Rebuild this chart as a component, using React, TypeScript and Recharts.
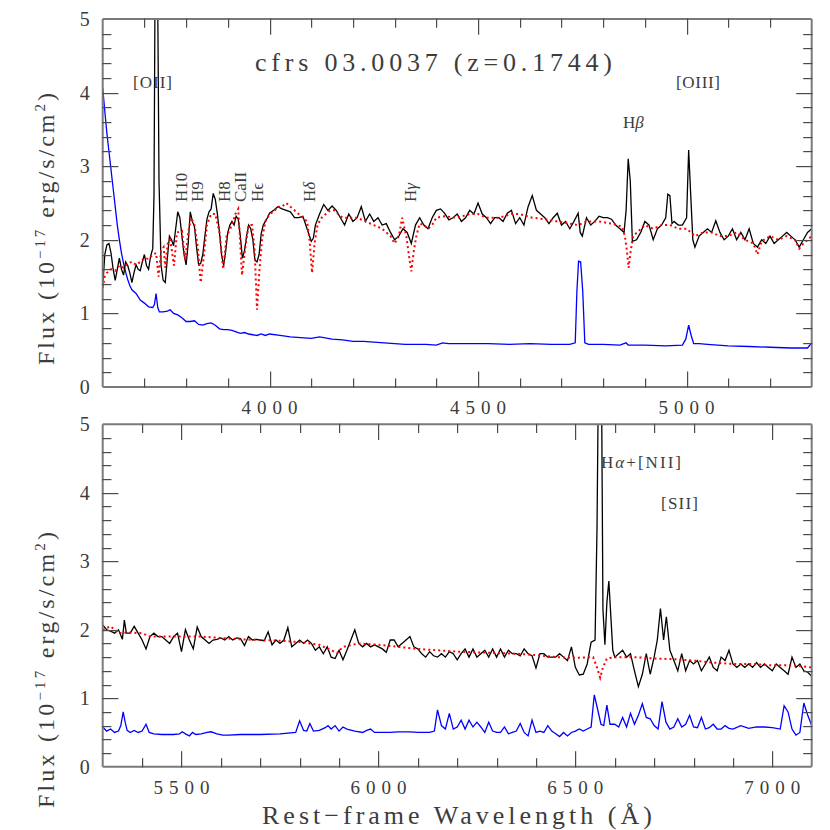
import React from "react";
import { LineChart, Line, XAxis, YAxis } from "recharts";

type Pt = [number, number];

// top panel: 3600-5300 A
const topObserved: Pt[] = [
  [3600, 1.35], [3605, 1.8], [3610, 1.93], [3615, 1.95], [3620, 1.82], [3625, 1.6], [3630, 1.45], [3635, 1.6],
  [3640, 1.75], [3645, 1.6], [3650, 1.52], [3655, 1.7], [3660, 1.65], [3665, 1.55], [3670, 1.42], [3675, 1.55],
  [3680, 1.66], [3685, 1.6], [3690, 1.58], [3695, 1.7], [3700, 1.8], [3705, 1.65], [3710, 1.6], [3715, 1.78],
  [3720, 1.88], [3723, 2.6], [3726, 6], [3731, 6], [3735, 2.8], [3740, 1.65], [3745, 1.45], [3750, 1.42],
  [3755, 1.75], [3760, 2.05], [3765, 2.0], [3770, 1.92], [3775, 2.15], [3780, 2.38], [3785, 2.3], [3790, 2.05],
  [3795, 1.8], [3800, 1.66], [3805, 1.95], [3810, 2.38], [3815, 2.25], [3820, 2.18], [3825, 1.9], [3830, 1.66],
  [3835, 1.68], [3840, 1.8], [3845, 2.05], [3850, 2.28], [3855, 2.38], [3860, 2.42], [3865, 2.63], [3870, 2.55],
  [3875, 2.35], [3880, 2.1], [3885, 1.8], [3890, 1.65], [3895, 1.85], [3900, 2.1], [3905, 2.2], [3910, 2.25],
  [3915, 2.2], [3920, 2.32], [3925, 2.28], [3930, 2.05], [3935, 1.75], [3940, 1.85], [3945, 2.05], [3950, 2.2],
  [3955, 2.15], [3960, 2.0], [3965, 1.72], [3970, 1.7], [3975, 1.8], [3980, 2.08], [3985, 2.2], [3990, 2.25],
  [3995, 2.3], [4000, 2.36], [4010, 2.4], [4020, 2.45], [4030, 2.42], [4040, 2.4], [4050, 2.38], [4060, 2.3],
  [4070, 2.3], [4080, 2.32], [4090, 2.15], [4100, 1.98], [4105, 2.02], [4110, 2.2], [4120, 2.35], [4130, 2.48],
  [4140, 2.4], [4150, 2.46], [4160, 2.4], [4170, 2.3], [4180, 2.2], [4190, 2.35], [4200, 2.25], [4210, 2.3],
  [4220, 2.45], [4230, 2.25], [4240, 2.35], [4250, 2.25], [4260, 2.3], [4270, 2.2], [4280, 2.22], [4290, 2.1],
  [4300, 2.0], [4310, 2.05], [4320, 2.15], [4330, 2.1], [4340, 1.95], [4350, 2.2], [4360, 2.3], [4370, 2.2],
  [4380, 2.15], [4390, 2.3], [4400, 2.4], [4410, 2.42], [4420, 2.36], [4430, 2.27], [4440, 2.3], [4450, 2.35],
  [4460, 2.25], [4470, 2.3], [4480, 2.4], [4490, 2.35], [4500, 2.5], [4510, 2.35], [4520, 2.3], [4530, 2.22],
  [4540, 2.3], [4550, 2.3], [4560, 2.25], [4570, 2.36], [4580, 2.4], [4590, 2.22], [4600, 2.3], [4610, 2.2],
  [4620, 2.45], [4630, 2.6], [4640, 2.4], [4650, 2.35], [4660, 2.3], [4670, 2.22], [4680, 2.3], [4690, 2.36],
  [4700, 2.2], [4710, 2.25], [4720, 2.15], [4730, 2.25], [4740, 2.36], [4745, 2.1], [4750, 2.05], [4760, 2.3],
  [4770, 2.2], [4780, 2.25], [4790, 2.32], [4800, 2.3], [4810, 2.3], [4820, 2.28], [4830, 2.2], [4840, 2.15],
  [4850, 2.1], [4855, 2.4], [4860, 3.1], [4865, 2.8], [4870, 1.98], [4880, 2.0], [4890, 2.1], [4900, 2.25],
  [4910, 2.2], [4920, 2.0], [4930, 2.15], [4940, 2.2], [4950, 2.3], [4955, 2.62], [4960, 2.6], [4965, 2.22],
  [4970, 2.25], [4980, 2.2], [4990, 2.2], [5000, 2.3], [5005, 3.22], [5010, 2.6], [5015, 2.0], [5020, 1.9],
  [5030, 2.05], [5040, 2.1], [5050, 2.15], [5060, 2.1], [5070, 2.26], [5080, 2.1], [5090, 2.0], [5100, 2.05],
  [5110, 2.15], [5120, 2.0], [5130, 2.1], [5140, 2.0], [5150, 2.15], [5160, 1.95], [5170, 1.9], [5180, 2.0],
  [5190, 1.95], [5200, 2.05], [5210, 1.95], [5220, 2.0], [5230, 2.05], [5240, 2.1], [5250, 2.05], [5260, 2.0],
  [5270, 1.9], [5280, 2.0], [5290, 2.1], [5300, 2.15],
];

const topModel: Pt[] = [
  [3600, 1.35], [3605, 1.5], [3610, 1.55], [3620, 1.6], [3630, 1.58], [3640, 1.65], [3650, 1.62], [3660, 1.68],
  [3670, 1.7], [3680, 1.66], [3690, 1.7], [3700, 1.75], [3710, 1.74], [3720, 1.8], [3728, 1.82], [3734, 1.5],
  [3740, 1.85], [3746, 1.9], [3750, 1.62], [3756, 1.95], [3762, 2.0], [3771, 1.65], [3778, 2.1], [3790, 2.12],
  [3798, 1.72], [3805, 2.1], [3812, 2.3], [3820, 2.2], [3828, 1.9], [3835, 1.42], [3842, 1.75], [3850, 2.2],
  [3860, 2.35], [3870, 2.35], [3880, 2.1], [3889, 1.6], [3897, 2.05], [3910, 2.2], [3918, 2.35], [3925, 2.42],
  [3934, 1.52], [3942, 1.9], [3950, 2.2], [3958, 2.2], [3964, 1.9], [3970, 1.05], [3976, 1.6], [3982, 2.0],
  [3990, 2.25], [4000, 2.35], [4010, 2.38], [4020, 2.45], [4030, 2.45], [4040, 2.5], [4050, 2.45], [4060, 2.4],
  [4070, 2.35], [4080, 2.3], [4090, 2.25], [4096, 2.0], [4102, 1.55], [4108, 1.95], [4115, 2.2], [4125, 2.3],
  [4135, 2.35], [4145, 2.4], [4155, 2.4], [4165, 2.35], [4175, 2.3], [4190, 2.3], [4210, 2.3], [4230, 2.25],
  [4250, 2.2], [4270, 2.15], [4290, 2.05], [4300, 1.95], [4310, 2.05], [4318, 2.3], [4328, 2.05], [4334, 1.8],
  [4340, 1.57], [4346, 1.85], [4352, 2.05], [4360, 2.22], [4370, 2.2], [4380, 2.15], [4390, 2.2], [4400, 2.3],
  [4420, 2.32], [4450, 2.3], [4480, 2.35], [4500, 2.35], [4520, 2.3], [4550, 2.3], [4580, 2.35], [4600, 2.35],
  [4630, 2.3], [4660, 2.28], [4690, 2.25], [4720, 2.22], [4740, 2.2], [4760, 2.25], [4790, 2.25], [4820, 2.22],
  [4845, 2.18], [4852, 2.05], [4857, 1.85], [4861, 1.62], [4866, 1.85], [4872, 2.05], [4885, 2.12], [4900, 2.2],
  [4920, 2.15], [4940, 2.2], [4960, 2.2], [4980, 2.15], [5000, 2.15], [5020, 2.05], [5040, 2.1], [5060, 2.1],
  [5080, 2.05], [5100, 2.05], [5120, 2.1], [5140, 2.0], [5160, 1.95], [5170, 1.8], [5180, 1.98], [5200, 2.05],
  [5220, 2.0], [5240, 2.05], [5260, 2.0], [5270, 1.88], [5280, 1.95], [5300, 2.05],
];

const topNoise: Pt[] = [
  [3600, 4.06], [3605, 3.75], [3610, 3.45], [3615, 3.2], [3620, 2.95], [3625, 2.7], [3630, 2.45], [3635, 2.2],
  [3640, 2.0], [3645, 1.82], [3650, 1.68], [3655, 1.56], [3660, 1.46], [3665, 1.38], [3670, 1.32], [3680, 1.27],
  [3690, 1.18], [3700, 1.14], [3710, 1.09], [3720, 1.08], [3724, 1.12], [3728, 1.27], [3732, 1.08], [3736, 1.02],
  [3745, 1.02], [3755, 1.03], [3762, 1.05], [3770, 1.0], [3780, 0.98], [3790, 0.94], [3800, 0.89], [3810, 0.89],
  [3820, 0.9], [3830, 0.85], [3840, 0.84], [3850, 0.86], [3860, 0.87], [3870, 0.84], [3880, 0.79], [3890, 0.78],
  [3900, 0.78], [3910, 0.77], [3920, 0.75], [3930, 0.73], [3940, 0.74], [3950, 0.72], [3960, 0.71], [3970, 0.7],
  [3980, 0.72], [3990, 0.7], [4000, 0.72], [4025, 0.7], [4050, 0.68], [4075, 0.67], [4100, 0.66], [4120, 0.68],
  [4150, 0.65], [4175, 0.64], [4200, 0.62], [4225, 0.62], [4250, 0.61], [4275, 0.6], [4300, 0.59], [4325, 0.58],
  [4350, 0.58], [4375, 0.58], [4400, 0.57], [4415, 0.6], [4430, 0.59], [4475, 0.59], [4525, 0.59], [4575, 0.58],
  [4625, 0.59], [4675, 0.58], [4720, 0.58], [4733, 0.6], [4737, 1.3], [4741, 1.71], [4746, 1.7], [4751, 1.3],
  [4756, 0.6], [4765, 0.58], [4800, 0.58], [4840, 0.57], [4855, 0.6], [4860, 0.57], [4900, 0.57], [4950, 0.56],
  [4990, 0.57], [4998, 0.65], [5005, 0.84], [5011, 0.7], [5017, 0.59], [5030, 0.59], [5050, 0.58], [5100, 0.56],
  [5150, 0.55], [5200, 0.54], [5250, 0.53], [5290, 0.53], [5300, 0.6],
];

// bottom panel: 5300-7100 A
const bottomObserved: Pt[] = [
  [5300, 2.07], [5310, 2.0], [5320, 1.98], [5330, 1.95], [5340, 2.0], [5350, 1.86], [5355, 2.14], [5360, 1.95],
  [5370, 1.95], [5380, 2.05], [5390, 1.95], [5400, 1.85], [5410, 1.72], [5420, 1.9], [5430, 1.95], [5440, 1.9],
  [5450, 1.9], [5460, 1.85], [5470, 1.8], [5480, 1.9], [5490, 1.95], [5500, 1.68], [5510, 2.0], [5520, 1.85],
  [5530, 1.72], [5540, 2.04], [5550, 1.9], [5560, 1.85], [5570, 1.8], [5580, 1.85], [5590, 1.86], [5600, 1.88],
  [5610, 1.85], [5620, 1.9], [5630, 1.85], [5640, 1.88], [5650, 1.87], [5660, 1.77], [5670, 1.9], [5680, 1.85],
  [5690, 1.86], [5700, 1.85], [5710, 1.84], [5720, 1.97], [5730, 1.78], [5740, 1.85], [5750, 1.8], [5760, 1.85],
  [5770, 2.03], [5780, 1.75], [5790, 1.8], [5800, 1.85], [5810, 1.8], [5820, 1.85], [5830, 1.8], [5840, 1.7],
  [5850, 1.75], [5860, 1.65], [5870, 1.75], [5880, 1.6], [5890, 1.58], [5900, 1.7], [5910, 1.56], [5920, 1.7],
  [5930, 1.85], [5940, 2.0], [5950, 1.8], [5960, 1.75], [5970, 1.8], [5980, 1.75], [5990, 1.78], [6000, 1.75],
  [6010, 1.72], [6020, 1.67], [6030, 1.85], [6040, 1.85], [6050, 1.75], [6060, 1.8], [6070, 1.85], [6080, 1.9],
  [6090, 1.75], [6100, 1.72], [6110, 1.65], [6120, 1.6], [6130, 1.68], [6140, 1.62], [6150, 1.6], [6160, 1.65],
  [6170, 1.6], [6180, 1.68], [6190, 1.65], [6200, 1.56], [6210, 1.65], [6220, 1.72], [6230, 1.6], [6240, 1.72],
  [6250, 1.6], [6260, 1.65], [6270, 1.7], [6280, 1.6], [6290, 1.72], [6300, 1.6], [6310, 1.72], [6320, 1.6],
  [6330, 1.7], [6340, 1.65], [6350, 1.65], [6360, 1.62], [6370, 1.72], [6380, 1.65], [6390, 1.62], [6400, 1.44],
  [6410, 1.65], [6420, 1.65], [6430, 1.6], [6440, 1.6], [6450, 1.6], [6460, 1.65], [6470, 1.6], [6480, 1.55],
  [6490, 1.75], [6500, 1.45], [6510, 1.34], [6520, 1.35], [6530, 1.5], [6540, 1.82], [6550, 1.85], [6555, 3.5],
  [6559, 6], [6566, 6], [6570, 2.3], [6575, 1.78], [6580, 2.4], [6585, 2.71], [6590, 2.2], [6595, 1.7],
  [6600, 1.6], [6610, 1.65], [6620, 1.7], [6630, 1.6], [6640, 1.65], [6650, 1.4], [6660, 1.17], [6670, 1.35],
  [6680, 1.65], [6690, 1.35], [6700, 1.6], [6708, 1.85], [6716, 2.31], [6724, 1.85], [6731, 2.19], [6740, 1.7],
  [6750, 1.55], [6760, 1.4], [6770, 1.65], [6780, 1.4], [6790, 1.55], [6800, 1.5], [6810, 1.55], [6820, 1.4],
  [6830, 1.5], [6840, 1.6], [6850, 1.45], [6860, 1.4], [6870, 1.6], [6880, 1.55], [6890, 1.7], [6900, 1.5],
  [6910, 1.45], [6920, 1.5], [6930, 1.45], [6940, 1.5], [6950, 1.45], [6960, 1.52], [6970, 1.45], [6980, 1.5],
  [6990, 1.45], [7000, 1.4], [7010, 1.5], [7020, 1.45], [7030, 1.4], [7040, 1.35], [7050, 1.6], [7060, 1.45],
  [7070, 1.5], [7080, 1.4], [7090, 1.38], [7100, 1.32],
];

const bottomModel: Pt[] = [
  [5300, 2.0], [5320, 2.05], [5340, 1.95], [5360, 1.96], [5400, 1.95], [5420, 1.9], [5450, 1.9], [5500, 1.9],
  [5550, 1.9], [5600, 1.88], [5650, 1.86], [5700, 1.85], [5750, 1.84], [5800, 1.82], [5850, 1.78], [5880, 1.7],
  [5895, 1.66], [5910, 1.75], [5950, 1.8], [6000, 1.78], [6050, 1.75], [6100, 1.72], [6150, 1.7], [6200, 1.68],
  [6250, 1.67], [6300, 1.66], [6350, 1.65], [6400, 1.63], [6450, 1.6], [6500, 1.59], [6545, 1.6], [6555, 1.45],
  [6563, 1.3], [6570, 1.45], [6580, 1.58], [6600, 1.6], [6650, 1.6], [6700, 1.58], [6750, 1.57], [6800, 1.55],
  [6850, 1.52], [6900, 1.5], [6950, 1.5], [7000, 1.48], [7050, 1.48], [7100, 1.45],
];

const bottomNoise: Pt[] = [
  [5300, 0.58], [5310, 0.52], [5320, 0.55], [5330, 0.5], [5340, 0.52], [5346, 0.6], [5352, 0.8], [5357, 0.65],
  [5362, 0.53], [5370, 0.5], [5380, 0.53], [5390, 0.5], [5400, 0.52], [5410, 0.62], [5418, 0.5], [5430, 0.48],
  [5450, 0.47], [5480, 0.47], [5495, 0.48], [5502, 0.51], [5510, 0.48], [5520, 0.45], [5528, 0.5], [5536, 0.47],
  [5550, 0.48], [5565, 0.5], [5575, 0.51], [5590, 0.48], [5605, 0.46], [5620, 0.46], [5650, 0.47], [5700, 0.47],
  [5750, 0.48], [5790, 0.5], [5800, 0.67], [5810, 0.53], [5818, 0.52], [5826, 0.63], [5835, 0.52], [5850, 0.53],
  [5865, 0.57], [5872, 0.6], [5880, 0.55], [5890, 0.6], [5900, 0.52], [5910, 0.58], [5920, 0.55], [5940, 0.52],
  [5960, 0.5], [5970, 0.53], [5980, 0.55], [5990, 0.5], [6000, 0.5], [6030, 0.5], [6050, 0.51], [6080, 0.51],
  [6100, 0.5], [6130, 0.5], [6142, 0.52], [6150, 0.83], [6160, 0.6], [6170, 0.55], [6180, 0.78], [6190, 0.55],
  [6200, 0.58], [6210, 0.68], [6220, 0.55], [6230, 0.68], [6240, 0.58], [6250, 0.65], [6260, 0.58], [6270, 0.5],
  [6280, 0.65], [6290, 0.52], [6300, 0.5], [6310, 0.5], [6320, 0.58], [6330, 0.48], [6340, 0.5], [6350, 0.52],
  [6360, 0.63], [6370, 0.5], [6380, 0.45], [6390, 0.68], [6400, 0.5], [6410, 0.52], [6420, 0.5], [6430, 0.6],
  [6440, 0.52], [6450, 0.48], [6460, 0.44], [6470, 0.5], [6480, 0.45], [6490, 0.5], [6500, 0.52], [6510, 0.55],
  [6520, 0.52], [6530, 0.55], [6540, 0.58], [6548, 1.05], [6556, 0.85], [6565, 0.62], [6572, 0.6], [6580, 0.9],
  [6588, 0.62], [6600, 0.62], [6610, 0.58], [6620, 0.72], [6630, 0.58], [6640, 0.78], [6650, 0.62], [6660, 0.75],
  [6670, 0.92], [6680, 0.72], [6690, 0.7], [6700, 0.6], [6710, 0.55], [6720, 0.95], [6730, 0.65], [6740, 0.55],
  [6750, 0.58], [6760, 0.7], [6770, 0.58], [6780, 0.62], [6790, 0.75], [6800, 0.58], [6810, 0.57], [6820, 0.72],
  [6830, 0.55], [6840, 0.57], [6850, 0.62], [6860, 0.55], [6870, 0.55], [6880, 0.6], [6890, 0.56], [6900, 0.55],
  [6920, 0.6], [6940, 0.56], [6960, 0.58], [6980, 0.58], [7000, 0.57], [7020, 0.55], [7030, 0.89], [7040, 0.8],
  [7050, 0.55], [7060, 0.46], [7070, 0.5], [7080, 0.93], [7090, 0.75], [7100, 0.6],
];

const topTicks = [3700, 3800, 3900, 4000, 4100, 4200, 4300, 4400, 4500, 4600, 4700, 4800, 4900, 5000, 5100, 5200];
const bottomTicks = [5400, 5500, 5600, 5700, 5800, 5900, 6000, 6100, 6200, 6300, 6400, 6500, 6600, 6700, 6800, 6900, 7000];
const fluxTicks = [0.2, 0.4, 0.6, 0.8, 1, 1.2, 1.4, 1.6, 1.8, 2, 2.2, 2.4, 2.6, 2.8, 3, 3.2, 3.4, 3.6, 3.8, 4, 4.2, 4.4, 4.6, 4.8];
const fluxLabels = [0, 1, 2, 3, 4, 5];

const FRAME = "#7a7a7a";
const TICK = "#4a4a4a";
const INK = "#3c3c3c";
const FONT = "'Liberation Serif', 'DejaVu Serif', serif";
const MINOR = 8;
const MAJOR = 15;

// plot boxes in page pixels (same numbers as the chart margins below)
const TOP_BOX = { left: 102.7, right: 811.7, top: 19, bottom: 387 };
const BOTTOM_BOX = { left: 102.7, right: 811.7, top: 424.3, bottom: 766.7 };

const rows = (pts: Pt[]) => pts.map(([wl, flux]) => ({ wl, flux }));
const majorX = (v: number) => v % 500 === 0;
const majorY = (v: number) => Math.abs(v - Math.round(v)) < 1e-6;
const crisp = (v: number) => Math.round(v) + 0.5;

const WaveLabel = (p: any) =>
  majorX(p.payload.value) ? (
    <text x={p.x} y={p.y + 27} textAnchor="middle" fontFamily={FONT} fontSize={19} fill={INK} textLength={56} lengthAdjust="spacing">
      {p.payload.value}
    </text>
  ) : (
    <g />
  );

const FluxLabel = (p: any) => (
  <text x={p.x - 13} y={p.y + 7} textAnchor="end" fontFamily={FONT} fontSize={20} fill={INK}>
    {p.payload.value}
  </text>
);

interface PanelProps {
  height: number;
  margin: { top: number; right: number; bottom: number; left: number };
  domain: [number, number];
  ticks: number[];
  observed: Pt[];
  model: Pt[];
  noise: Pt[];
}

const SpectrumPanel = ({ height, margin, domain, ticks, observed, model, noise }: PanelProps) => {
  const frame = { stroke: FRAME, strokeWidth: 2 };
  return (
    <LineChart width={830} height={height} margin={margin}>
      <XAxis xAxisId="b" type="number" dataKey="wl" domain={domain} allowDataOverflow ticks={ticks} interval={0} height={1}
        tickSize={0} tickMargin={0} tickLine={false} axisLine={frame} tick={(p: any) => <WaveLabel {...p} />} />
      <XAxis xAxisId="t" orientation="top" type="number" dataKey="wl" domain={domain} allowDataOverflow height={1}
        tick={false} tickLine={false} axisLine={frame} />
      <YAxis yAxisId="l" type="number" domain={[0, 5]} allowDataOverflow ticks={fluxLabels} interval={0} width={1}
        tickSize={0} tickMargin={0} tickLine={false} axisLine={frame} tick={(p: any) => <FluxLabel {...p} />} />
      <YAxis yAxisId="r" orientation="right" type="number" domain={[0, 5]} allowDataOverflow width={1}
        tick={false} tickLine={false} axisLine={frame} />
      <Line xAxisId="b" yAxisId="l" data={rows(noise)} dataKey="flux" type="linear" stroke="#0000ff" strokeWidth={1.3}
        dot={false} isAnimationActive={false} />
      <Line xAxisId="b" yAxisId="l" data={rows(observed)} dataKey="flux" type="linear" stroke="#000000" strokeWidth={1.3}
        dot={false} isAnimationActive={false} />
      <Line xAxisId="b" yAxisId="l" data={rows(model)} dataKey="flux" type="linear" stroke="#ff0000" strokeWidth={2}
        strokeDasharray="2 3" dot={false} isAnimationActive={false} />
    </LineChart>
  );
};

// inward tick marks on all four sides of a panel frame, snapped to whole pixels
const FrameTicks = ({ box, domain, ticks }: { box: typeof TOP_BOX; domain: [number, number]; ticks: number[] }) => {
  const sx = (v: number) => crisp(box.left + ((v - domain[0]) / (domain[1] - domain[0])) * (box.right - box.left));
  const sy = (v: number) => crisp(box.bottom - (v / 5) * (box.bottom - box.top));
  const marks: { x1: number; y1: number; x2: number; y2: number }[] = [];
  ticks.forEach((v) => {
    const len = majorX(v) ? MAJOR : MINOR;
    const x = sx(v);
    marks.push({ x1: x, y1: box.bottom, x2: x, y2: box.bottom - len });
    marks.push({ x1: x, y1: box.top, x2: x, y2: box.top + len });
  });
  fluxTicks.forEach((v) => {
    const len = majorY(v) ? MAJOR : MINOR;
    const y = sy(v);
    marks.push({ x1: box.left, y1: y, x2: box.left + len, y2: y });
    marks.push({ x1: box.right, y1: y, x2: box.right - len, y2: y });
  });
  return (
    <g>
      {marks.map((m, i) => (
        <rect key={i} x={Math.min(m.x1, m.x2) - 0.5} y={Math.min(m.y1, m.y2) - 0.5}
          width={Math.max(Math.abs(m.x2 - m.x1), 0) + 1.2} height={Math.max(Math.abs(m.y2 - m.y1), 0) + 1.2} fill={TICK} />
      ))}
    </g>
  );
};

const Label = ({ x, y, text, size = 17, rotate = false, length }: { x: number; y: number; text: React.ReactNode; size?: number; rotate?: boolean; length?: number }) => (
  <text x={0} y={0} transform={`translate(${x},${y})${rotate ? " rotate(-90)" : ""}`} fontFamily={FONT} fontSize={size} fill={INK}
    textLength={length} lengthAdjust={length ? "spacing" : undefined}>
    {text}
  </text>
);

const FluxTitle = ({ x, y, length }: { x: number; y: number; length: number }) => (
  <text transform={`translate(${x},${y}) rotate(-90)`} fontFamily={FONT} fontSize={24} fill={INK} textLength={length} lengthAdjust="spacing">
    Flux (10<tspan dy={-9} fontSize={15}>−17</tspan>
    <tspan dy={9}> erg/s/cm</tspan>
    <tspan dy={-9} fontSize={15}>2</tspan>
    <tspan dy={9}>)</tspan>
  </text>
);

export default function App() {
  return (
    <div style={{ position: "absolute", left: 0, top: 0, width: 830, height: 830, background: "#fff" }}>
      <div style={{ position: "absolute", left: 0, top: 0 }}>
        <SpectrumPanel height={420} margin={{ top: 18, right: 17.3, bottom: 32, left: 101.7 }} domain={[3600, 5300]}
          ticks={topTicks} observed={topObserved} model={topModel} noise={topNoise} />
      </div>
      <div style={{ position: "absolute", left: 0, top: 405 }}>
        <SpectrumPanel height={425} margin={{ top: 18.3, right: 17.3, bottom: 62.3, left: 101.7 }} domain={[5300, 7100]}
          ticks={bottomTicks} observed={bottomObserved} model={bottomModel} noise={bottomNoise} />
      </div>
      <svg width={830} height={830} style={{ position: "absolute", left: 0, top: 0, pointerEvents: "none" }}>
        <FrameTicks box={TOP_BOX} domain={[3600, 5300]} ticks={topTicks} />
        <FrameTicks box={BOTTOM_BOX} domain={[5300, 7100]} ticks={bottomTicks} />
        <Label x={255} y={71} size={26} text="cfrs 03.0037 (z=0.1744)" length={357} />
        <Label x={133} y={88} text="[OII]" length={39} />
        <Label x={676} y={88} text="[OIII]" length={44} />
        <Label x={623} y={128} text={<>H<tspan fontStyle="italic">β</tspan></>} />
        <Label x={187} y={202} rotate text="H10" />
        <Label x={203} y={202} rotate text="H9" />
        <Label x={230} y={202} rotate text="H8" />
        <Label x={246} y={202} rotate text="CaII" />
        <Label x={263} y={202} rotate text="Hϵ" />
        <Label x={315} y={202} rotate text={<>H<tspan fontStyle="italic">δ</tspan></>} />
        <Label x={416} y={202} rotate text={<>H<tspan fontStyle="italic">γ</tspan></>} />
        <Label x={601} y={468} text={<>H<tspan fontStyle="italic">α</tspan>+[NII]</>} length={80} />
        <Label x={661} y={509} text="[SII]" length={37} />
        <FluxTitle x={54} y={365} length={272} />
        <FluxTitle x={54} y={808} length={276} />
        <Label x={262} y={824} size={26} text="Rest−frame Wavelength (Å)" length={390} />
      </svg>
    </div>
  );
}
